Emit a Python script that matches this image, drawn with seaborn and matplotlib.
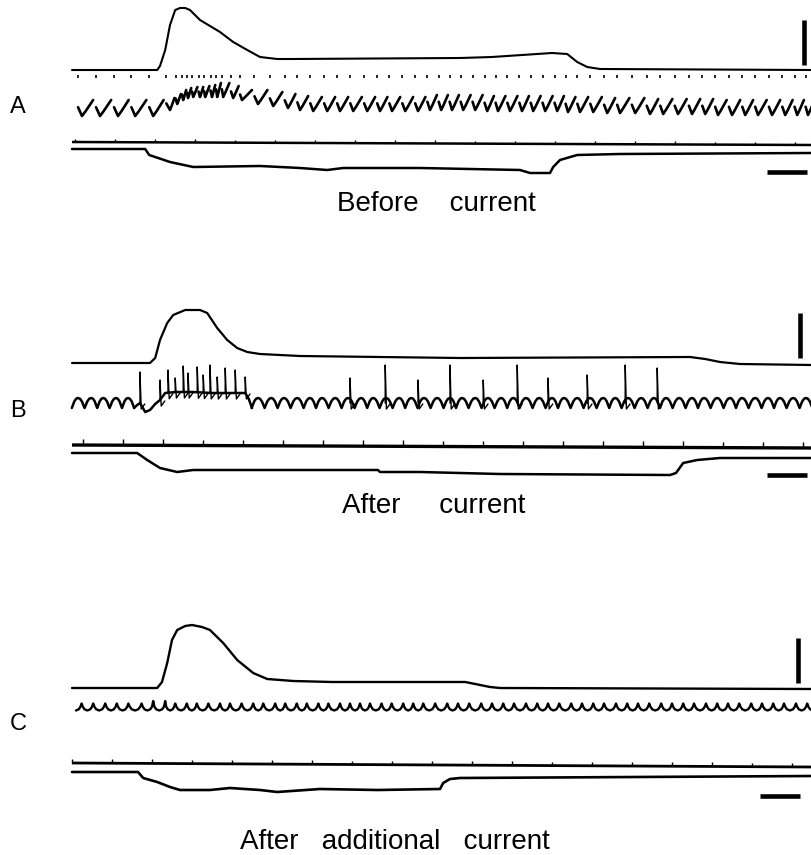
import numpy as np
import pandas as pd
import seaborn as sns
import matplotlib
matplotlib.use("Agg")
import matplotlib.pyplot as plt

# time in seconds (one timer tick = 1 s), amplitudes in chart units

# ---------------- A : before current ----------------
a_top_t = [0.00, 2.13, 2.20, 2.33, 2.45, 2.58, 2.70, 2.83, 2.95, 3.20, 3.70, 4.03,
           4.38, 4.70, 5.13, 5.50, 9.70, 10.50, 12.00, 12.38, 12.63, 12.88, 13.20, 18.50]
a_top_v = [0, 0, 4, 20, 45, 60, 62, 62, 60, 50, 38, 28,
           20, 13, 11, 11, 12, 13, 17, 16, 8, 3, 1, 0]

a_cur_t = [0.00, 1.83, 1.93, 2.45, 3.03, 4.70, 5.70, 6.38, 6.78, 8.70, 11.20, 11.45,
           11.95, 12.03, 12.20, 12.63, 13.70, 18.50]
a_cur_v = [0, 0, -6, -13, -18, -17, -19, -21, -19, -19, -21, -24,
           -24, -18, -11, -6, -5, -4]

# respiration troughs (time, trough level, rise height)
a_resp_t = [0.25, 0.70, 1.15, 1.58, 2.03,
            2.45, 2.63, 2.78, 2.90, 3.03, 3.20, 3.33, 3.50, 3.63, 3.78, 4.03, 4.25,
            4.65, 5.03, 5.40, 5.70, 6.03, 6.38, 6.70, 7.03, 7.38, 7.70, 8.00, 8.33, 8.65,
            8.95, 9.23, 9.50, 9.78, 10.08, 10.38, 10.65, 10.95, 11.25, 11.53, 11.83, 12.13,
            12.40, 12.70, 13.03, 13.38, 13.70, 14.08, 14.45, 14.78, 15.15, 15.50, 15.83,
            16.15, 16.50, 16.83, 17.15, 17.50, 17.83, 18.13, 18.40]
a_resp_lvl = ([0, 0, 0, 0, 0]
              + [6, 12, 16, 18, 19, 19, 19, 19, 19, 19, 18, 16]
              + [12, 10, 8, 6, 5, 5, 5, 5, 5, 5, 5, 5, 5]
              + [6] * 5 + [5] * 7 + [4] * 3 + [3] * 3 + [2] * 5 + [1] * 8)
a_resp_depth = ([16] * 5
                + [12, 10, 10, 10, 10, 10, 11, 12, 14, 14, 12, 10]
                + [14] * 13 + [15] * 31)

a_marks = [0.08, 1.08, 2.08, 3.08, 4.08, 5.08, 6.08, 7.08, 8.08, 9.08, 10.08,
           11.08, 12.08, 13.08, 14.08, 15.08, 16.08, 17.08, 18.08]

# ---------------- B : after current ----------------
b_top_t = [0.00, 1.95, 2.08, 2.20, 2.38, 2.53, 2.83, 3.20, 3.38, 3.63, 3.88, 4.13,
           4.38, 4.70, 5.70, 9.70, 15.45, 15.83, 16.20, 16.70, 18.50]
b_top_v = [0, 0, 5, 23, 40, 48, 53, 53, 50, 35, 23, 15,
           11, 9, 7, 5, 6, 4, 1, -1, -2]

b_cur_t = [0.00, 1.63, 1.88, 2.20, 2.63, 3.03, 7.65, 7.70, 8.70, 10.70, 14.95, 15.10,
           15.28, 15.63, 16.20, 18.50]
b_cur_v = [0, 0, -7, -15, -19, -17, -17, -19, -19, -21, -22, -20,
           -10, -7, -5, -5]

b_osc_crest = [0.15, 0.48, 0.78, 1.10, 1.40,
               4.65, 4.98, 5.30, 5.63, 5.95, 6.25, 6.58, 6.90, 7.23, 7.53, 7.85, 8.18,
               8.48, 8.80, 9.13, 9.45, 9.75, 10.08, 10.40, 10.73, 11.03, 11.35, 11.68,
               12.00, 12.30, 12.63, 12.95, 13.28, 13.58, 13.90, 14.23, 14.55, 14.85,
               15.18, 15.50, 15.80, 16.13, 16.45, 16.75, 17.08, 17.40, 17.70, 18.03, 18.35]
b_burst_t = [1.55, 1.63, 1.70, 1.83, 1.95, 2.08, 2.20, 2.33, 2.60, 3.00, 3.50, 4.00,
             4.33, 4.42, 4.50]
b_burst_v = [-5, -2, 0, -9, -7, -1, 3, 10, 11, 11, 10, 10, 10, 4, -5]

b_spk_t = [1.70, 2.20, 2.40, 2.58, 2.78, 2.90, 3.13, 3.28, 3.45, 3.63, 3.83, 4.08, 4.33,
           6.95, 7.83, 8.65, 9.45, 10.28, 11.13, 11.90, 12.88, 13.83, 14.63]
b_spk_h = [31, 23, 33, 25, 37, 30, 36, 28, 38, 26, 35, 33, 26,
           25, 38, 23, 38, 23, 38, 25, 28, 38, 35]

b_marks = [0.28, 1.28, 2.28, 3.28, 4.28, 5.28, 6.28, 7.28, 8.28, 9.28, 10.28,
           11.28, 12.28, 13.28, 14.28, 15.28, 16.28, 17.28, 18.28]

# ---------------- C : after additional current ----------------
c_top_t = [0.00, 2.13, 2.25, 2.38, 2.50, 2.63, 2.83, 3.00, 3.25, 3.45, 3.78, 4.13,
           4.53, 4.88, 5.53, 6.50, 9.83, 10.08, 10.45, 10.70, 18.50]
c_top_v = [0, 0, 6, 25, 48, 58, 62, 63, 61, 58, 45, 28,
           15, 9, 7, 6, 6, 4, 1, 0, -1]

c_cur_t = [0.00, 1.65, 1.78, 2.13, 2.45, 2.70, 3.45, 3.95, 4.70, 5.13, 6.20, 7.63,
           9.20, 9.28, 9.45, 9.70, 18.50]
c_cur_v = [0, 0, -6, -10, -15, -18, -18, -16, -18, -20, -17, -18,
           -17, -11, -7, -6, -4]

c_osc_crest = [0.24, 0.53, 0.83, 1.12, 1.41, 1.74, 2.03, 2.33, 2.58, 2.87, 3.12, 3.41,
               3.70, 3.95, 4.24, 4.53, 4.78, 5.08, 5.33, 5.62, 5.87, 6.16, 6.41, 6.70,
               6.95, 7.20, 7.45, 7.74, 7.99, 8.28, 8.53, 8.78, 9.08, 9.38, 9.65, 9.93,
               10.23, 10.50, 10.78, 11.05, 11.35, 11.63, 11.90, 12.18, 12.48, 12.75,
               13.03, 13.30, 13.60, 13.88, 14.15, 14.43, 14.73, 15.00, 15.28, 15.55,
               15.85, 16.13, 16.40, 16.68, 16.98, 17.25, 17.53, 17.80, 18.10, 18.38]
c_osc_big = [2.03, 2.33]

c_marks = [0.00, 1.00, 2.00, 3.00, 4.00, 5.00, 6.00, 7.00, 8.00, 9.00, 10.00,
           11.00, 12.00, 13.00, 14.00, 15.00, 16.00, 17.00, 18.00]

SCALE_T = 1.0   # horizontal calibration bar, s
SCALE_V = 45    # vertical calibration bar, units

# single-cycle wave shapes (phase, level) from one crest to the next
WAVE_ROUND = [(0, 1), (0.15, 0.85), (0.3, 0.3), (0.42, -0.5), (0.5, -1),
              (0.58, -0.5), (0.7, 0.3), (0.85, 0.85)]
WAVE_CUSP = [(0, 1), (0.1, 0.1), (0.25, -0.65), (0.5, -1), (0.75, -0.65), (0.9, 0.1)]


def draw(ax, t, y, seg=None, lw=1.6, cap="round"):
    if seg is None:
        seg = np.zeros(len(t), dtype=int)
    df = pd.DataFrame({"t": t, "y": y, "seg": seg})
    sns.lineplot(data=df, x="t", y="y", units="seg", estimator=None, sort=False,
                 color="black", linewidth=lw, legend=False, ax=ax,
                 solid_capstyle=cap, solid_joinstyle="round")


def wave(crests, shape, amp, big=(), big_amp=None, max_gap=0.6):
    crests = np.asarray(crests)
    groups = np.split(crests, np.where(np.diff(crests) > max_gap)[0] + 1)
    t, v, seg = [], [], []
    for g_id, cs in enumerate(groups):
        p = np.median(np.diff(cs)) if len(cs) > 1 else 0.3
        for f, s in shape:
            if f >= 0.5:
                t.append(cs[0] - p + f * p); v.append(s * amp); seg.append(g_id)
        for k, c in enumerate(cs):
            a_c = big_amp if any(abs(c - b) < 1e-6 for b in big) else amp
            last = k + 1 == len(cs)
            gap = p if last else cs[k + 1] - c
            for f, s in shape:
                if last and f > 0.5:
                    break
                t.append(c + f * gap); v.append(s * (a_c if f == 0 else amp)); seg.append(g_id)
    return np.array(t), np.array(v), np.array(seg)


def timer(ax, marks, base, drift, h, lw):
    end = 18.5
    draw(ax, [0, end], [base, base + drift], lw=lw, cap="butt")
    mt, my, ms = [], [], []
    for i, m in enumerate(marks):
        y0 = base + drift * m / end
        mt += [m, m]; my += [y0, y0 - h]; ms += [i, i]
    draw(ax, mt, my, seg=ms, lw=1.0, cap="butt")


def bars(ax, t_v, base_v, t_h, y_h):
    draw(ax, [t_v, t_v], [base_v - 5, base_v - 5 - SCALE_V], lw=3.3, cap="butt")
    draw(ax, [t_h, t_h + SCALE_T], [y_h, y_h], lw=3.3, cap="butt")


sns.set_style("white")
plt.rcParams["font.family"] = ["Liberation Sans", "DejaVu Sans"]

fig = plt.figure(figsize=(8.12, 8.55), dpi=100)
ax = fig.add_axes([0, 0, 1, 1])

# ---- panel A ----
draw(ax, a_top_t, 70 - np.array(a_top_v), lw=1.5)
rt, rv, rs, dt, dy, ds = [], [], [], [], [], []
n = len(a_resp_t)
for i in range(n):
    ti, lv, d = a_resp_t[i], a_resp_lvl[i], a_resp_depth[i]
    gp = ti - a_resp_t[i - 1] if i > 0 else a_resp_t[1] - a_resp_t[0]
    gn = a_resp_t[i + 1] - ti if i < n - 1 else gp
    rt += [ti - 0.22 * gp, ti, ti + 0.2 * gn, ti + 0.62 * gn]
    rv += [lv + 0.55 * d, lv, lv + 0.3 * d, lv + d]
    rs += [i] * 4
    dt += [ti - 0.22 * gp] * 2
    dy += [78, 75]
    ds += [i, i]
draw(ax, rt, 116 - np.array(rv), seg=rs, lw=1.9)
draw(ax, dt, dy, seg=ds, lw=1.2, cap="butt")
timer(ax, a_marks, 142, 3, 3, 1.8)
draw(ax, a_cur_t, 149 - np.array(a_cur_v), lw=1.8)
bars(ax, 18.30, 70, 17.38, 172)

# ---- panel B ----
draw(ax, b_top_t, 363 - np.array(b_top_v), lw=1.6)
wt, wv, ws = wave(b_osc_crest, WAVE_ROUND, 5)
draw(ax, wt, 403 - wv, seg=ws, lw=1.8)
draw(ax, b_burst_t, 403 - np.array(b_burst_v), lw=1.8)
st, sy, ss = [], [], []
for i, (s, h) in enumerate(zip(b_spk_t, b_spk_h)):
    base = np.interp(s, b_burst_t, b_burst_v) if s < b_burst_t[-1] else 0
    st += [s, s, s + 0.03, s + 0.12]
    sy += [base, h, base - 6, base - 1]
    ss += [i] * 4
draw(ax, st, 403 - np.array(sy), seg=ss, lw=1.0)
timer(ax, b_marks, 445, 3, 6, 2.4)
draw(ax, b_cur_t, 453 - np.array(b_cur_v), lw=1.8)
bars(ax, 18.20, 363, 17.38, 475)

# ---- panel C ----
draw(ax, c_top_t, 688 - np.array(c_top_v), lw=1.7)
wt, wv, ws = wave(c_osc_crest, WAVE_CUSP, 3.5, big=c_osc_big, big_amp=6)
draw(ax, wt, 707 - wv, seg=ws, lw=1.7)
timer(ax, c_marks, 763, 4, 4, 2.0)
draw(ax, c_cur_t, 772 - np.array(c_cur_v), lw=1.9)
bars(ax, 18.15, 688, 17.20, 796)

# ---- labels ----
for lab, y in [("A", 113), ("B", 417), ("C", 730)]:
    ax.text(-1.35, y, lab, ha="center", va="baseline", fontsize=17, color="black")
for cap_txt, t0, y in [("Before    current", 6.63, 211),
                       ("After     current", 6.75, 513),
                       ("After   additional   current", 4.20, 849)]:
    ax.text(t0, y, cap_txt, ha="left", va="baseline", fontsize=20, color="black")

ax.set_xlim(-1.8, 18.5)
ax.set_ylim(855, 0)
ax.axis("off")

fig.savefig("out.png", dpi=100)
